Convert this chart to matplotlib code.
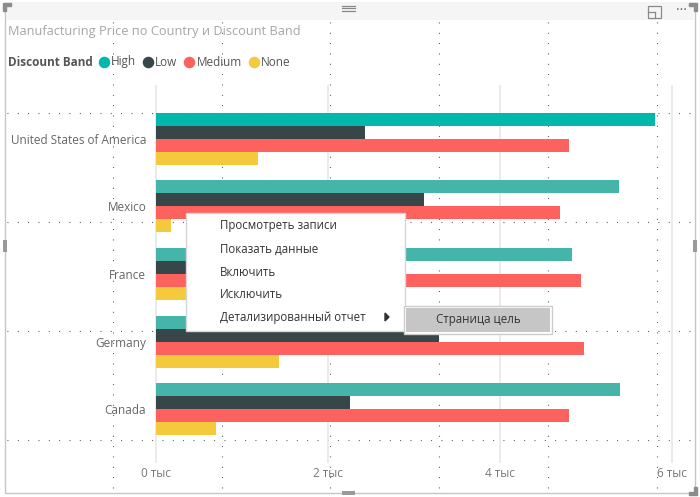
import numpy as np
import matplotlib.pyplot as plt
import matplotlib.transforms as mtransforms
from matplotlib.patches import Rectangle, Polygon
from matplotlib.lines import Line2D
from matplotlib.ticker import FuncFormatter

plt.rcParams['font.family'] = ['Open Sans', 'DejaVu Sans']

# data (thousands)
countries = ['United States of America', 'Mexico', 'France', 'Germany', 'Canada']
bands = ['High', 'Low', 'Medium', 'None']
high = [5.81, 5.39, 4.84, 4.40, 5.40]
low = [2.43, 3.12, 2.80, 3.29, 2.26]
medium = [4.80, 4.70, 4.95, 4.98, 4.80]
none = [1.19, 0.17, 0.60, 1.43, 0.70]
x_ticks = [0, 2, 4, 6]
menu_items = ['Просмотреть записи', 'Показать данные', 'Включить', 'Исключить',
              'Детализированный отчет']
submenu_item = 'Страница цель'

colors = {'High': '#01B8AA', 'Low': '#374649', 'Medium': '#FD625E', 'None': '#F4C93C'}
high_dim = '#44B5A8'

W, H = 700, 497
fig = plt.figure(figsize=(W / 100, H / 100), dpi=100)
fig.patch.set_facecolor('white')


def fx(x):
    return x / W


def fy(y):
    return 1 - y / H


def rect(x0, y0, x1, y1, **kw):
    r = Rectangle((fx(x0), fy(y1)), fx(x1) - fx(x0), fy(y0) - fy(y1),
                  transform=fig.transFigure, **kw)
    fig.patches.append(r)
    return r


# canvas dotted grid (behind the visual)
for gx in [113, 222, 330, 439, 548, 657]:
    fig.lines.append(Line2D([fx(gx), fx(gx)], [fy(22), fy(490)], transform=fig.transFigure,
                            color='#444444', lw=0.8, dashes=(0.8, 8.5), zorder=-5))
for gy in [113, 222, 331, 440]:
    fig.lines.append(Line2D([fx(7), fx(693)], [fy(gy), fy(gy)], transform=fig.transFigure,
                            color='#444444', lw=0.8, dashes=(0.8, 8.5), zorder=-5))

# plot area
top, bottom = 105, 443
ax = fig.add_axes([fx(156), fy(bottom), fx(676) - fx(156), fy(top) - fy(bottom)])
ax.patch.set_alpha(0)
y = np.arange(len(countries))
h = 0.193
series = [high, low, medium, none]
for k, (band, vals) in enumerate(zip(bands, series)):
    cols = [colors[band]] * len(vals)
    if band == 'High':
        cols = [colors['High']] + [high_dim] * (len(vals) - 1)
    ax.barh(y + (k - 1.5) * h, vals, height=h, color=cols, zorder=3)

ax.set_xlim(0, 6.05)
ax.set_ylim(len(countries) - 0.5, -0.5)
ax.set_yticks(y)
ax.set_yticklabels(countries)
ax.set_xticks(x_ticks)
ax.xaxis.set_major_formatter(FuncFormatter(lambda v, p: f'{v:.0f} тыс'))
# value gridlines run a little past the category band, as in Power BI
blend = mtransforms.blended_transform_factory(ax.transData, ax.transAxes)
ext = 20 / (bottom - top)
ax.vlines(x_ticks, -ext, 1 + ext, transform=blend, colors='#e8e8e8', lw=1.2,
          zorder=0, clip_on=False)
for s in ax.spines.values():
    s.set_visible(False)
ax.tick_params(axis='x', length=0, pad=17, labelsize=8.5, labelcolor='#777777')
ax.tick_params(axis='y', length=0, pad=7, labelsize=8.5, labelcolor='#666666')

# title and legend
fig.text(fx(8), fy(32), 'Manufacturing Price по Country и Discount Band', fontsize=9.2,
         color='#a6a6a6', va='center', ha='left')
renderer = fig.canvas.get_renderer()
t = fig.text(fx(8), fy(62), 'Discount Band', fontsize=8.5, fontweight='bold',
             color='#555555', va='center', ha='left')
xpos = 104
for band in bands:
    fig.lines.append(Line2D([fx(xpos)], [fy(62)], transform=fig.transFigure, marker='o',
                            ms=7.3, color=colors[band], lw=0))
    lt = fig.text(fx(xpos + 7), fy(62), band, fontsize=8.5, color='#555555',
                  va='center', ha='left')
    xpos = lt.get_window_extent(renderer).x1 + 12

# visual frame and header
rect(5, 3, 695, 493, fill=False, edgecolor='#c6c6c6', lw=1.0, zorder=5)
rect(5.5, 3.5, 694.5, 20, facecolor='#f5f5f5', edgecolor='none', zorder=5)
for yy in [5.5, 8, 10.5]:
    fig.lines.append(Line2D([fx(342), fx(355)], [fy(yy), fy(yy)], transform=fig.transFigure,
                            color='#888888', lw=0.9, zorder=6))
# corner / edge handles
for pts in ([(3, 3), (11, 3), (11, 6), (6, 6), (6, 11), (3, 11)],
            [(697, 3), (689, 3), (689, 6), (694, 6), (694, 11), (697, 11)],
            [(697, 495), (689, 495), (689, 492), (694, 492), (694, 487), (697, 487)]):
    fig.patches.append(Polygon([(fx(a), fy(b)) for a, b in pts], closed=True,
                               transform=fig.transFigure, color='#8c8c8c', zorder=6))
rect(342, 491, 355, 495, facecolor='#9a9a9a', edgecolor='none', zorder=6)
rect(3, 240, 7, 252, facecolor='#9a9a9a', edgecolor='none', zorder=6)
rect(693, 240, 697, 252, facecolor='#9a9a9a', edgecolor='none', zorder=6)
# focus mode icon and "more" dots
rect(648, 6, 661, 18, fill=False, edgecolor='#8a8a8a', lw=0.9, zorder=6)
fig.lines.append(Line2D([fx(648), fx(655)], [fy(12), fy(12)], transform=fig.transFigure,
                        color='#8a8a8a', lw=0.9, zorder=6))
fig.lines.append(Line2D([fx(655), fx(655)], [fy(12), fy(18)], transform=fig.transFigure,
                        color='#8a8a8a', lw=0.9, zorder=6))
fig.text(fx(681), fy(10), '···', fontsize=10, color='#666666', ha='center', va='center',
         zorder=6)

# context menu
rect(186, 213, 405, 331, facecolor='white', edgecolor='#d6d6d6', lw=1.0, zorder=10)
for i, item in enumerate(menu_items):
    fig.text(fx(220), fy(226 + 23 * i), item, fontsize=8.3, color='#333333',
             ha='left', va='center', zorder=11)
fig.patches.append(Polygon([(fx(385), fy(313)), (fx(385), fy(321)), (fx(389), fy(317))],
                           closed=True, transform=fig.transFigure, color='#333333', zorder=11))
rect(404, 306, 552, 334, facecolor='white', edgecolor='#cccccc', lw=1.0, zorder=10)
rect(406, 308, 550, 332, facecolor='#c6c6c6', edgecolor='none', zorder=11)
fig.text(fx(478), fy(320), submenu_item, fontsize=8.3, color='#333333',
         ha='center', va='center', zorder=12)

fig.savefig('out.png', dpi=100)
